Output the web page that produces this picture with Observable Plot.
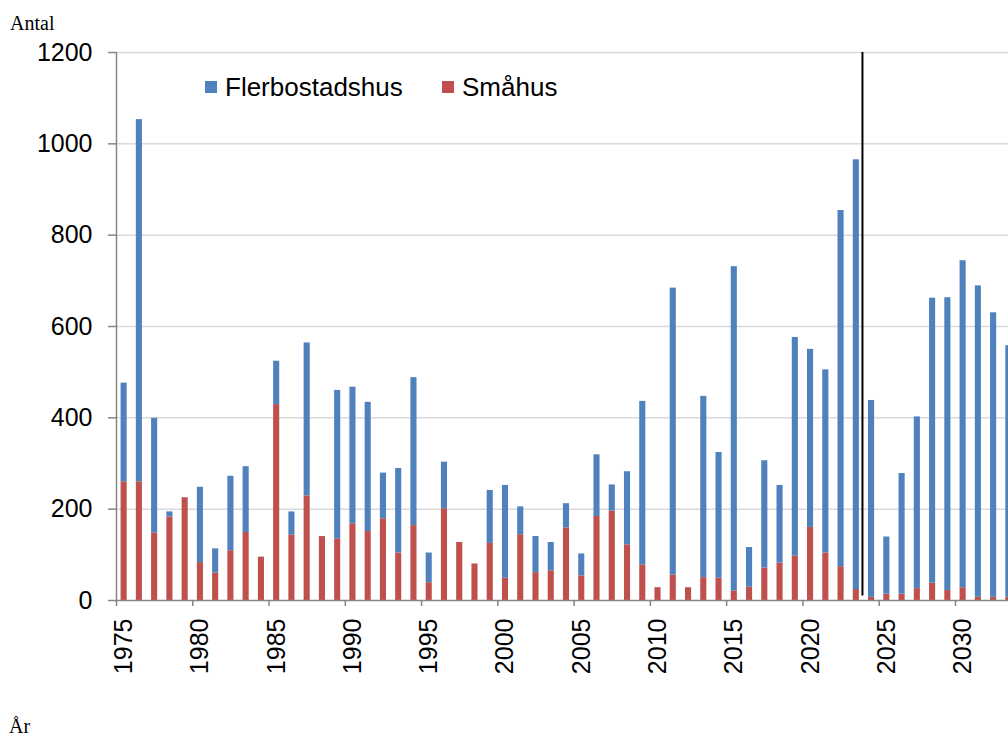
<!DOCTYPE html>
<html><head><meta charset="utf-8">
<script src="https://cdn.jsdelivr.net/npm/d3@7"></script>
<script src="https://cdn.jsdelivr.net/npm/@observablehq/plot@0.6"></script>
<style>
html,body{margin:0;padding:0;background:#fff;overflow:hidden;width:1008px;height:736px}
#wrap{position:relative;width:1008px;height:736px;overflow:hidden}
#wrap svg{position:absolute;left:0;top:0;max-width:none !important;width:1016px !important;height:690px !important}
.lbl{position:absolute;font-family:"Liberation Serif","Times New Roman",serif;font-size:20px;color:#000;line-height:1;white-space:nowrap}
.leg{position:absolute;font-family:"Liberation Sans",Arial,sans-serif;font-size:26px;color:#000;line-height:1;display:flex;align-items:center;white-space:nowrap}
.sw{display:inline-block;width:12px;height:12px;margin-right:8px}
</style></head><body><div id="wrap"></div>
<script>
const years = [1975,1976,1977,1978,1979,1980,1981,1982,1983,1984,1985,1986,1987,1988,1989,1990,1991,1992,1993,1994,1995,1996,1997,1998,1999,2000,2001,2002,2003,2004,2005,2006,2007,2008,2009,2010,2011,2012,2013,2014,2015,2016,2017,2018,2019,2020,2021,2022,2023,2024,2025,2026,2027,2028,2029,2030,2031,2032,2033];
const smahus = [260,260,148,183,225,83,60,109,149,95,429,143,229,140,135,168,151,179,104,164,39,201,127,80,125,49,144,61,65,159,54,184,196,122,78,28,56,28,50,49,21,29,71,82,97,160,104,74,24,7,14,14,26,38,22,28,7,7,7];
const flerbostadshus = [216,793,251,11,0,165,53,163,144,0,95,51,335,0,325,299,283,100,185,324,65,102,0,0,116,203,61,79,62,53,48,135,57,160,358,0,628,0,397,275,710,87,235,170,479,390,401,780,941,431,125,264,376,624,641,716,682,623,551];
const seriesNames = ["Flerbostadshus", "Småhus"];
const seriesColors = ["#4f81bd", "#c0504d"];
const yTicks = [0, 200, 400, 600, 800, 1000, 1200];
const xTickYears = [1975, 1980, 1985, 1990, 1995, 2000, 2005, 2010, 2015, 2020, 2025, 2030];
const forecastYear = 2024;
const yLabel = "Antal";
const xLabel = "År";

const rows = years.flatMap((yr, i) => [
  {year: yr, type: "Småhus", value: smahus[i]},
  {year: yr, type: "Flerbostadshus", value: flerbostadshus[i]}
]);

const W = 1016, H = 690, ML = 116;
const step = (W - ML) / years.length;

const chart = Plot.plot({
  width: W, height: H,
  marginLeft: ML, marginRight: 0, marginTop: 52, marginBottom: 90,
  style: {fontFamily: '"Liberation Sans", Arial, sans-serif', fontSize: "25px", color: "#000", background: "white"},
  x: {type: "band", domain: years, paddingInner: 0.6, paddingOuter: 0.3, round: false, axis: null, label: null},
  y: {domain: [0, 1200], axis: null, label: null},
  color: {domain: seriesNames, range: seriesColors},
  marks: [
    Plot.gridY(yTicks.slice(1), {stroke: "#d9d9d9", strokeOpacity: 1, strokeWidth: 1.5}),
    Plot.barY(rows, {x: "year", y: "value", fill: "type", order: ["Småhus", "Flerbostadshus"]}),
    Plot.ruleY([0], {stroke: "#868686", strokeWidth: 1.5}),
    Plot.ruleX([years[0]], {y1: 0, y2: 1200, dx: -step / 2, stroke: "#868686", strokeWidth: 1.5}),
    Plot.axisY({ticks: yTicks, label: null, tickSize: 8, tickPadding: 16, stroke: "#868686", strokeWidth: 1.5, fontSize: 25, fill: "#000", tickFormat: d => `${d}`}),
    Plot.axisX({ticks: xTickYears, label: null, tickSize: 6, dx: -step / 2, stroke: "#868686", strokeWidth: 1.5, tickFormat: () => ""}),
    Plot.axisX({ticks: xTickYears, label: null, tickSize: 0, tickPadding: 18, tickRotate: -90, fontSize: 25, fill: "#000", tickFormat: d => `${d}`}),
    Plot.ruleX([forecastYear], {y1: 10, y2: 1200, dx: -step / 2 - 1.5, stroke: "#000", strokeWidth: 2})
  ]
});

const wrap = document.getElementById("wrap");
wrap.appendChild(chart);

const yl = document.createElement("div");
yl.className = "lbl"; yl.textContent = yLabel;
yl.style.left = "10px"; yl.style.top = "13px";
wrap.appendChild(yl);

const xl = document.createElement("div");
xl.className = "lbl"; xl.textContent = xLabel;
xl.style.left = "9px"; xl.style.top = "716px";
wrap.appendChild(xl);

const legPos = [205, 442];
seriesNames.forEach((name, i) => {
  const d = document.createElement("div");
  d.className = "leg";
  d.style.left = legPos[i] + "px";
  d.style.top = "74px";
  const sw = document.createElement("span");
  sw.className = "sw"; sw.style.background = seriesColors[i];
  d.appendChild(sw);
  d.appendChild(document.createTextNode(name));
  wrap.appendChild(d);
});
</script>
</body></html>
